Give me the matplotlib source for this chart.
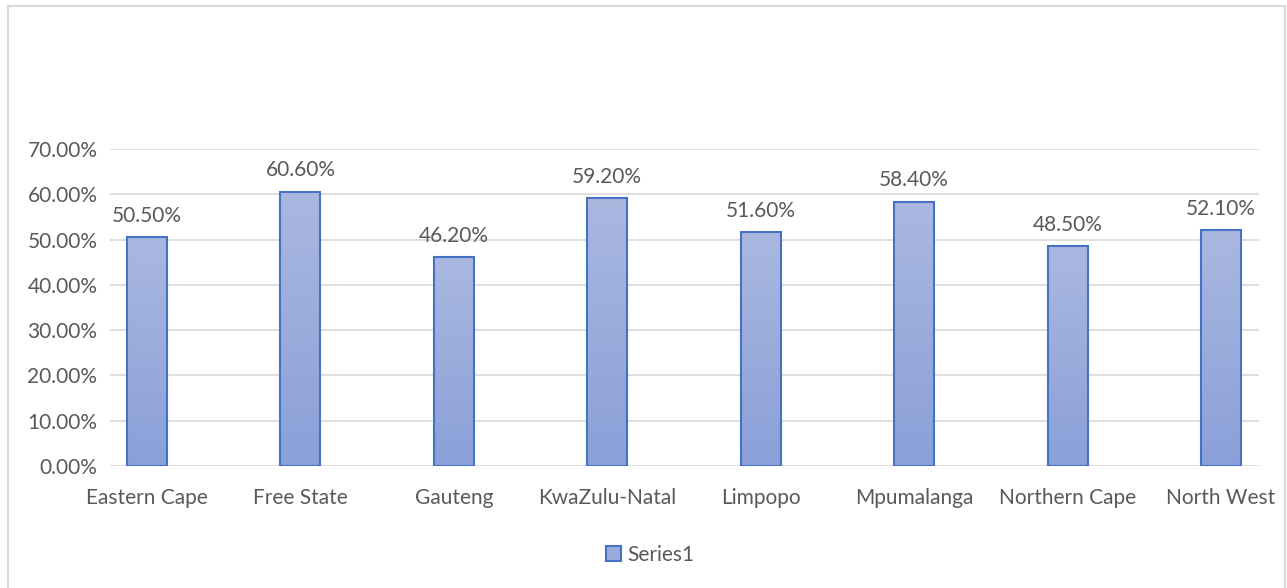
import matplotlib
matplotlib.use("Agg")
import matplotlib.pyplot as plt
import numpy as np
from matplotlib.patches import Rectangle, Patch
from matplotlib.colors import LinearSegmentedColormap

categories = ["Eastern Cape", "Free State", "Gauteng", "KwaZulu-Natal",
              "Limpopo", "Mpumalanga", "Northern Cape", "North West"]
values = [50.5, 60.6, 46.2, 59.2, 51.6, 58.4, 48.5, 52.1]
yticks = [0, 10, 20, 30, 40, 50, 60, 70]
series_name = "Series1"

plt.rcParams['font.family'] = ['Lato', 'DejaVu Sans']
W, H = 1287, 588
fig = plt.figure(figsize=(W / 100, H / 100), dpi=100)
fig.patch.set_facecolor("white")

# outer border
fig.add_artist(Rectangle((8 / W, -0.01), (1285 - 8) / W, (H - 6) / H + 0.01,
                         transform=fig.transFigure, fill=False,
                         edgecolor="#d9d9d9", linewidth=1.5))

ax_left, ax_right = 110 / W, 1259 / W
ax_bottom = (H - 466) / H
ax_h = (466 - 149) / H
ax = fig.add_axes([ax_left, ax_bottom, ax_right - ax_left, ax_h])

step = (1221 - 147) / 7.0
xlim = (-(147 - 110) / step, 7 + (1259 - 1221) / step)

txt = "#595959"
fs = 15
for s in ax.spines.values():
    s.set_visible(False)
ax.set_yticks(yticks)
ax.set_yticklabels([f"{t:.2f}%" for t in yticks], color=txt, fontsize=fs)
ax.set_xticks(range(len(categories)))
ax.set_xticklabels(categories, color=txt, fontsize=fs)
ax.tick_params(length=0)
ax.tick_params(axis='y', pad=9)
ax.tick_params(axis='x', pad=16)
ax.grid(axis='y', color="#d9d9d9", linewidth=1.2)
ax.set_axisbelow(True)

bw = 40 / step
cmap = LinearSegmentedColormap.from_list("g", ["#8aa0d8", "#aab8e0"])
grad = np.linspace(0, 1, 256).reshape(-1, 1)
x = np.arange(len(categories))
bars = ax.bar(x, values, width=bw, facecolor="none", edgecolor="#4472c4",
              linewidth=1.5, zorder=3, label=series_name)
for b in bars:
    x0, y0 = b.get_x(), b.get_y()
    w, h = b.get_width(), b.get_height()
    im = ax.imshow(grad, extent=[x0, x0 + w, y0, y0 + h], origin='lower',
                   cmap=cmap, aspect='auto', zorder=2)
    im.set_clip_path(b)
for xi, v in zip(x, values):
    ax.annotate(f"{v:.2f}%", (xi, v), xytext=(0, 8), textcoords="offset points",
                ha="center", va="bottom", color=txt, fontsize=fs)
ax.set_xlim(*xlim)
ax.set_ylim(0, 70)

handle = Patch(facecolor="#98abdc", edgecolor="#4472c4", linewidth=1.5)
fig.legend([handle], [series_name], loc="center", bbox_to_anchor=(650 / W, 1 - 555 / H),
           frameon=False, fontsize=fs, handlelength=0.7, handleheight=0.7,
           handletextpad=0.3, labelcolor=txt)

fig.savefig("out.png", dpi=100, facecolor="white")
